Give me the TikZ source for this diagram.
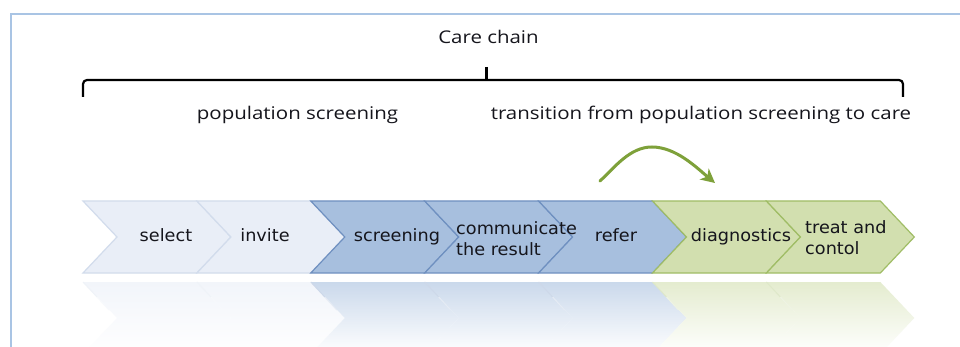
\documentclass[tikz,border=0pt]{standalone}
\usepackage{fontspec}
\usetikzlibrary{arrows.meta}
\newfontfamily\labfont[FakeStretch=1.17]{Open Sans}
\newfontfamily\chevfont[FakeStretch=1.04]{DejaVu Sans}
\definecolor{lightfill}{HTML}{E9EEF7}
\definecolor{lightdraw}{HTML}{D2DCEC}
\definecolor{bluefill}{HTML}{A7BFDE}
\definecolor{bluedraw}{HTML}{6F90C0}
\definecolor{greenfill}{HTML}{D2DFAF}
\definecolor{greendraw}{HTML}{A0BD66}
\definecolor{arrowgreen}{HTML}{7EA13A}
\definecolor{framecol}{HTML}{A9C4E4}
\definecolor{txt}{HTML}{15151C}
\begin{document}
\begin{tikzpicture}[x=1pt,y=-1pt,
  labeltext/.style={font=\labfont\fontsize{17.5}{21}\selectfont, text=txt, inner sep=0pt, anchor=base},
  chevtext/.style={font=\chevfont\fontsize{17}{21}\selectfont, text=txt, inner sep=0pt, anchor=base},
  chevtwo/.style={font=\chevfont\fontsize{17}{21}\selectfont, text=txt, inner sep=0pt, anchor=west, align=left},
  bracketline/.style={draw=black, line width=2.2pt, rounded corners=4pt},
  transarrow/.style={draw=arrowgreen, line width=3pt, line cap=round, -{Stealth[length=14pt,width=14pt,inset=4pt]}},
  framestyle/.style={draw=framecol, line width=2pt},
  refline/.style={line width=1pt}
]
\useasboundingbox (0,0) rectangle (960,347);
\fill[white] (0,0) rectangle (960,347);
% frame
\draw[framestyle] (11,348) -- (11,14) -- (961,14);

% chevrons and their reflections
\def\d{34}
\foreach \i/\fc/\dc in {0/lightfill/lightdraw,1/lightfill/lightdraw,2/bluefill/bluedraw,3/bluefill/bluedraw,4/bluefill/bluedraw,5/greenfill/greendraw,6/greenfill/greendraw}{
  \pgfmathsetmacro\xa{83+113.9*\i}
  \pgfmathsetmacro\xb{\xa+113.9}
  \path[fill=\fc, draw=\dc, line width=1.2pt] (\xa,201) -- (\xb,201) -- (\xb+\d,237) -- (\xb,273) -- (\xa,273) -- (\xa+\d,237) -- cycle;
  \shade[top color=\fc!60!white, middle color=white, bottom color=white] (\xa,282) -- (\xb,282) -- (\xb+\d,318) -- (\xb,354) -- (\xa,354) -- (\xa+\d,318) -- cycle;
}
\foreach \i/\dc in {0/lightdraw,1/lightdraw,2/bluedraw,3/bluedraw,4/bluedraw,5/greendraw,6/greendraw}{
  \pgfmathsetmacro\xa{83+113.9*\i}
  \draw[refline, \dc!35!white] (\xa,282) -- (\xa+14,297);
  \draw[refline, \dc!18!white] (\xa+14,297) -- (\xa+26,310);
}

% chevron labels
\node[chevtext] (select) at (166,241.5) {select};
\node[chevtext] (invite) at (265,241.5) {invite};
\node[chevtext] (screening) at (397,241.5) {screening};
\node[chevtwo] (communicate) at (456,239) {communicate\\the result};
\node[chevtext] (refer) at (616,241.5) {refer};
\node[chevtext] (diagnostics) at (741,241) {diagnostics};
\node[chevtwo] (treat) at (805,238) {treat and\\contol};

% bracket
\coordinate (bl) at (83,97);
\coordinate (bm) at (486.5,80);
\coordinate (bt) at (486.5,67);
\coordinate (br) at (903,97);
\draw[bracketline] (bl) |- (bm) -| (br);
\draw[black, line width=2.2pt] (bt) -- (bm);

% labels
\node[labeltext] (carechain) at (488.5,43.5) {Care chain};
\node[labeltext] (popscreen) at (297.5,119.5) {population screening};
\node[labeltext] (transition) at (701,119.5) {transition from population screening to care};

% green arrow
\coordinate (as) at (600,181);
\coordinate (ap) at (652,147);
\coordinate (ae) at (715,183);
\draw[transarrow] (as) .. controls (615,167) and (630,147) .. (ap) .. controls (676,147) and (697,168) .. (ae);
\end{tikzpicture}
\end{document}
